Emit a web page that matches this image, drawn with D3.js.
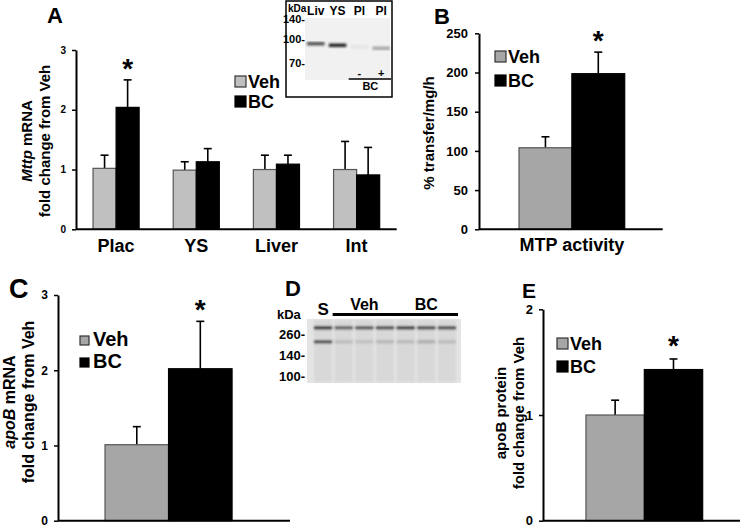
<!DOCTYPE html>
<html><head><meta charset="utf-8">
<script src="https://cdn.jsdelivr.net/npm/d3@7"></script>
<style>body{margin:0;background:#fff}svg{display:block}text{font-family:"Liberation Sans",Arial,sans-serif;font-weight:bold}</style>
</head><body>
<script>
// ---------- data ----------
const groups = ["Veh", "BC"];
const catsA = ["Plac", "YS", "Liver", "Int"];
const vehA = [1.02, 0.99, 1.0, 1.0];
const vehAErr = [0.22, 0.14, 0.24, 0.47];
const bcA = [2.04, 1.13, 1.09, 0.91];
const bcAErr = [0.46, 0.22, 0.15, 0.46];
const sigA = [true, false, false, false];
const ticksA = [0, 1, 2, 3];

const catsB = ["MTP activity"];
const vehB = [104];
const vehBErr = [14];
const bcB = [198.5];
const bcBErr = [27.5];
const ticksB = [0, 50, 100, 150, 200, 250];

const catsC = ["apoB mRNA"];
const vehC = [1.01];
const vehCErr = [0.24];
const bcC = [2.02];
const bcCErr = [0.63];
const ticksC = [0, 1, 2, 3];

const catsE = ["apoB protein"];
const vehE = [1.0];
const vehEErr = [0.14];
const bcE = [1.43];
const bcEErr = [0.10];
const ticksE = [0, 1, 2];

// western blot (panel D) lanes and band intensities
const laneD = ["S", "Veh1", "Veh2", "Veh3", "BC1", "BC2", "BC3"];
const bandTopD = [0.85, 0.6, 0.65, 0.7, 0.8, 0.72, 0.72];
const bandLowD = [0.75, 0.15, 0.12, 0.18, 0.16, 0.22, 0.15];
const markersD = ["260-", "140-", "100-"];
// inset blot (panel A)
const laneInset = ["Liv", "YS", "Pl", "Pl"];
const bandInset = [0.7, 0.9, 0.05, 0.3];
const markersInset = ["140-", "100-", "70-"];

const W = 745, H = 529;
const svg = d3.select("body").append("svg").attr("width", W).attr("height", H);

function panel(o) {
  const g = svg.append("g");
  const y = d3.scaleLinear().domain([0, o.yMax]).range([o.y0, o.yTop]);
  const x = d3.scaleBand().domain(o.cats).range(o.xr)
    .paddingInner(o.pi).paddingOuter(o.po).align(o.align);
  const xs = d3.scaleBand().domain(groups).range([0, x.bandwidth()]);
  const vals = [o.veh, o.bc], errs = [o.vehErr, o.bcErr];
  const fills = [o.vehFill, "#000"];
  groups.forEach((grp, gi) => {
    o.cats.forEach((c, ci) => {
      const v = vals[gi][ci], e = errs[gi][ci];
      const bx = x(c) + xs(grp), cx = bx + xs.bandwidth() / 2;
      g.append("line").attr("x1", cx).attr("x2", cx)
        .attr("y1", y(v)).attr("y2", y(v + e)).attr("stroke", "#000").attr("stroke-width", 1.6);
      g.append("line").attr("x1", cx - 4).attr("x2", cx + 4)
        .attr("y1", y(v + e)).attr("y2", y(v + e)).attr("stroke", "#000").attr("stroke-width", 1.6);
      g.append("rect").attr("x", bx).attr("y", y(v)).attr("width", xs.bandwidth())
        .attr("height", y(0) - y(v)).attr("fill", fills[gi])
        .attr("stroke", gi === 0 ? "#555" : "#000").attr("stroke-width", 1.2);
    });
  });
  // stars
  o.cats.forEach((c, ci) => {
    if (o.sig[ci]) {
      const cx = x(c) + xs("BC") + xs.bandwidth() / 2;
      g.append("text").attr("x", cx).attr("y", y(o.bc[ci] + o.bcErr[ci]) - o.starGap)
        .attr("text-anchor", "middle").attr("font-size", 28).text("*");
    }
  });
  // axes
  const ax = g.append("g").attr("transform", `translate(${o.xr[0]},0)`)
    .call(d3.axisLeft(y).tickValues(o.ticks).tickFormat(d3.format("d"))
      .tickSize(4).tickPadding(o.tp).tickSizeOuter(0));
  ax.select(".domain").attr("stroke-width", 2);
  ax.selectAll(".tick line").attr("stroke-width", 1.5);
  ax.selectAll(".tick text").attr("font-size", o.tickFs).attr("font-weight", "bold")
    .attr("font-family", '"Liberation Sans",Arial,sans-serif').attr("fill", "#000");
  g.append("line").attr("x1", o.xr[0]).attr("x2", o.xr[1]).attr("y1", y(0)).attr("y2", y(0))
    .attr("stroke", "#000").attr("stroke-width", 2);
  if (o.catLabels) {
    o.cats.forEach(c => {
      g.append("text").attr("x", x(c) + x.bandwidth() / 2).attr("y", o.catY)
        .attr("text-anchor", "middle").attr("font-size", 18).text(c);
    });
  }
  // legend
  groups.forEach((grp, gi) => {
    const ly = o.leg.y + gi * o.leg.dy;
    g.append("rect").attr("x", o.leg.x).attr("y", ly - o.leg.s).attr("width", o.leg.s).attr("height", o.leg.s)
      .attr("fill", fills[gi]).attr("stroke", gi === 0 ? "#333" : "#000").attr("stroke-width", 1.2);
    g.append("text").attr("x", o.leg.x + o.leg.s + o.leg.gap).attr("y", ly + 1)
      .attr("font-size", o.leg.fs).text(grp);
  });
  // y label
  o.ylab.forEach((ln, i) => {
    const t = g.append("text")
      .attr("transform", `translate(${o.ylabX[i]},${o.ylabCy}) rotate(-90)`)
      .attr("text-anchor", "middle").attr("font-size", o.ylabFs);
    ln.forEach(part => t.append("tspan").attr("font-style", part[1] ? "italic" : "normal").text(part[0]));
  });
  // panel letter
  g.append("text").attr("x", o.letter[1]).attr("y", o.letter[2]).attr("font-size", o.letter[3]).text(o.letter[0]);
  return g;
}

// Panel A
panel({cats: catsA, veh: vehA, vehErr: vehAErr, bc: bcA, bcErr: bcAErr, sig: sigA, ticks: ticksA,
  yMax: 3, y0: 229.3, yTop: 50, xr: [76, 396.7], pi: 0.425, po: 0.2125, align: 0.5,
  vehFill: "#c0c0c0", tickFs: 10, tp: 6, catLabels: true, catY: 252, starGap: 2,
  leg: {x: 235, y: 87, dy: 20, s: 11, gap: 2, fs: 18},
  ylab: [[["Mttp", true], [" mRNA", false]], [["fold change from Veh", false]]],
  ylabX: [32, 50], ylabCy: 141, ylabFs: 15, letter: ["A", 47, 23, 22]});

// Panel B
panel({cats: catsB, veh: vehB, vehErr: vehBErr, bc: bcB, bcErr: bcBErr, sig: [true], ticks: ticksB,
  yMax: 250, y0: 229.3, yTop: 33.3, xr: [479, 662.7], pi: 0, po: 0.369, align: 0.513,
  vehFill: "#a6a6a6", tickFs: 13, tp: 7, catLabels: true, catY: 251, starGap: 2,
  leg: {x: 495, y: 62, dy: 24, s: 11, gap: 2, fs: 18},
  ylab: [[["% transfer/mg/h", false]]], ylabX: [433.5], ylabCy: 133, ylabFs: 15,
  letter: ["B", 434, 24, 22]});

// Panel C
panel({cats: catsC, veh: vehC, vehErr: vehCErr, bc: bcC, bcErr: bcCErr, sig: [true], ticks: ticksC,
  yMax: 3, y0: 520.7, yTop: 295, xr: [58, 290], pi: 0, po: 0.413, align: 0.448,
  vehFill: "#a6a6a6", tickFs: 12, tp: 6, catLabels: false, starGap: 2,
  leg: {x: 80, y: 345, dy: 22, s: 9, gap: 4, fs: 20},
  ylab: [[["apoB", true], [" mRNA", false]], [["fold change from Veh", false]]],
  ylabX: [15, 34], ylabCy: 402, ylabFs: 16, letter: ["C", 9, 298, 27]});

// Panel E
panel({cats: catsE, veh: vehE, vehErr: vehEErr, bc: bcE, bcErr: bcEErr, sig: [true], ticks: ticksE,
  yMax: 2, y0: 520.7, yTop: 309.3, xr: [543, 740], pi: 0, po: 0.344, align: 0.535,
  vehFill: "#a6a6a6", tickFs: 13, tp: 6, catLabels: false, starGap: 4,
  leg: {x: 557, y: 349, dy: 23, s: 11, gap: 2, fs: 18},
  ylab: [[["apoB protein", false]], [["fold change from Veh", false]]],
  ylabX: [505.5, 523.5], ylabCy: 413, ylabFs: 15, letter: ["E", 522, 298, 21]});

// ---------- blur filter for blots ----------
const defs = svg.append("defs");
defs.append("filter").attr("id", "blur").append("feGaussianBlur").attr("stdDeviation", 0.9);

// Panel D western blot
(function () {
  const g = svg.append("g");
  g.append("text").attr("x", 285).attr("y", 296).attr("font-size", 22).text("D");
  const bx = d3.scaleBand().domain(laneD).range([314, 456]).paddingInner(0.12);
  const yk = d3.scalePoint().domain(markersD).range([339, 381]);
  g.append("text").attr("x", 277).attr("y", 319).attr("font-size", 13).text("kDa");
  markersD.forEach(m => g.append("text").attr("x", 305).attr("y", yk(m)).attr("text-anchor", "end")
    .attr("font-size", 13).text(m));
  g.append("rect").attr("x", 307).attr("y", 319).attr("width", 154).attr("height", 64).attr("fill", "#e4e4e4");
  const bl = g.append("g").attr("filter", "url(#blur)");
  laneD.forEach((l, i) => {
    bl.append("rect").attr("x", bx(l)).attr("y", 320).attr("width", bx.bandwidth()).attr("height", 62)
      .attr("fill", "#d8d8d8");
    bl.append("rect").attr("x", bx(l)).attr("y", 326).attr("width", bx.bandwidth()).attr("height", 3.5)
      .attr("fill", "#111").attr("opacity", bandTopD[i]);
    bl.append("rect").attr("x", bx(l)).attr("y", 340).attr("width", bx.bandwidth()).attr("height", 3.5)
      .attr("fill", "#222").attr("opacity", bandLowD[i]);
  });
  // headers
  g.append("text").attr("x", bx("S") + bx.bandwidth() / 2).attr("y", 315).attr("text-anchor", "middle")
    .attr("font-size", 17).text("S");
  [["Veh", "Veh1", "Veh3"], ["BC", "BC1", "BC3"]].forEach(h => {
    const x1 = bx(h[1]) - 2, x2 = bx(h[2]) + bx.bandwidth() + 2;
    g.append("rect").attr("x", x1).attr("y", 313).attr("width", x2 - x1).attr("height", 3).attr("fill", "#000");
    g.append("text").attr("x", (x1 + x2) / 2).attr("y", 310).attr("text-anchor", "middle")
      .attr("font-size", 16).text(h[0]);
  });
})();

// Inset blot in panel A
(function () {
  const g = svg.append("g");
  g.append("rect").attr("x", 286).attr("y", 1).attr("width", 106).attr("height", 96)
    .attr("fill", "#fff").attr("stroke", "#000").attr("stroke-width", 1.5);
  const bx = d3.scaleBand().domain(d3.range(laneInset.length)).range([307, 390]).paddingInner(0.2);
  g.append("text").attr("x", 288).attr("y", 12).attr("font-size", 10).text("kDa");
  laneInset.forEach((l, i) => g.append("text").attr("x", bx(i) + bx.bandwidth() / 2).attr("y", 15)
    .attr("text-anchor", "middle").attr("font-size", 12).text(l));
  const yk = d3.scaleOrdinal().domain(markersInset).range([23, 43, 67]);
  markersInset.forEach(m => g.append("text").attr("x", 305).attr("y", yk(m)).attr("text-anchor", "end")
    .attr("font-size", 11).text(m));
  g.append("rect").attr("x", 305).attr("y", 18).attr("width", 85).attr("height", 62).attr("fill", "#f1f1f1");
  const bl = g.append("g").attr("filter", "url(#blur)");
  laneInset.forEach((l, i) => {
    bl.append("rect").attr("x", bx(i)).attr("y", 42 + i * 1.5).attr("width", bx.bandwidth()).attr("height", 3.5)
      .attr("fill", "#111").attr("opacity", bandInset[i]);
  });
  const x3 = bx(2) + bx.bandwidth() / 2, x4 = bx(3) + bx.bandwidth() / 2;
  g.append("text").attr("x", x3).attr("y", 77).attr("text-anchor", "middle").attr("font-size", 11).text("-");
  g.append("text").attr("x", x4).attr("y", 77).attr("text-anchor", "middle").attr("font-size", 11).text("+");
  g.append("line").attr("x1", bx(2) - 2).attr("x2", bx(3) + bx.bandwidth() + 1).attr("y1", 79).attr("y2", 79)
    .attr("stroke", "#000").attr("stroke-width", 1.3);
  g.append("text").attr("x", (x3 + x4) / 2).attr("y", 90).attr("text-anchor", "middle").attr("font-size", 11).text("BC");
})();
</script>
</body></html>
